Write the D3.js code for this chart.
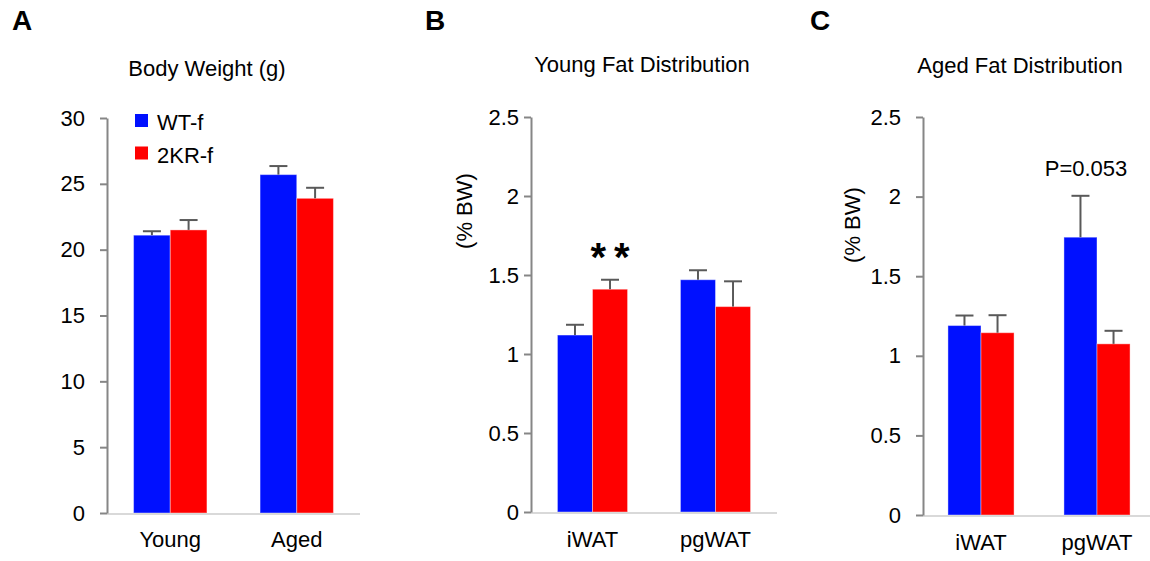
<!DOCTYPE html>
<html>
<head>
<meta charset="utf-8">
<script src="https://cdn.jsdelivr.net/npm/d3@7"></script>
<style>
  body { margin: 0; background: #fff; }
  svg text { font-family: "Liberation Sans", Arial, sans-serif; fill: #000; }
</style>
</head>
<body>
<script>
// Data

var seriesNames = ["WT-f", "2KR-f"];

// Panel A - body weight
var groupsA = ["Young", "Aged"];
var wtA = [21.1, 25.7];
var wtErrA = [0.3, 0.65];
var koA = [21.5, 23.9];
var koErrA = [0.75, 0.8];
var ticksA = [0, 5, 10, 15, 20, 25, 30];

// Panel B - young fat distribution
var groupsB = ["iWAT", "pgWAT"];
var wtB = [1.12, 1.47];
var wtErrB = [0.065, 0.06];
var koB = [1.41, 1.30];
var koErrB = [0.06, 0.16];
var ticksB = [0, 0.5, 1, 1.5, 2, 2.5];

// Panel C - aged fat distribution
var groupsC = ["iWAT", "pgWAT"];
var wtC = [1.19, 1.745];
var wtErrC = [0.063, 0.26];
var koC = [1.145, 1.075];
var koErrC = [0.11, 0.082];
var ticksC = [0, 0.5, 1, 1.5, 2, 2.5];

var blue = "#0010ff";
var red = "#ff0000";
var errColor = "#595959";

var width = 1150;
var height = 561;

var svg = d3.select("body")
  .append("svg")
  .attr("width", width)
  .attr("height", height);

// Draw one bar chart panel
function drawPanel(p) {
  var y = d3.scaleLinear()
    .domain([0, p.ticks[p.ticks.length - 1]])
    .range([p.y0, p.yTop]);

  var x0 = d3.scaleBand()
    .domain(p.groups)
    .range([p.left, p.right])
    .paddingInner(p.pad)
    .paddingOuter(p.pad / 2);

  var x1 = d3.scaleBand()
    .domain([0, 1])
    .range([0, x0.bandwidth()]);

  var g = svg.append("g");

  // title
  g.append("text")
    .attr("x", p.titleX)
    .attr("y", p.titleY)
    .attr("text-anchor", "middle")
    .style("font-size", "22px")
    .text(p.title);

  // panel letter
  g.append("text")
    .attr("x", p.letterX)
    .attr("y", 30)
    .style("font-size", "28px")
    .style("font-weight", "bold")
    .text(p.letter);

  // bars
  var rows = [];
  p.groups.forEach(function(name, i) {
    rows.push({ group: name, s: 0, v: p.wt[i], e: p.wtErr[i] });
    rows.push({ group: name, s: 1, v: p.ko[i], e: p.koErr[i] });
  });

  g.selectAll("rect.bar")
    .data(rows)
    .enter()
    .append("rect")
    .attr("class", "bar")
    .attr("x", function(d) { return x0(d.group) + x1(d.s); })
    .attr("y", function(d) { return y(d.v); })
    .attr("width", x1.bandwidth())
    .attr("height", function(d) { return y(0) - y(d.v); })
    .style("fill", function(d) { return d.s == 0 ? blue : red; })
    .style("stroke", "rgba(255,255,255,0.4)")
    .style("stroke-width", 1);

  // error bars (upper only)
  var errs = g.selectAll("g.err")
    .data(rows)
    .enter()
    .append("g")
    .attr("class", "err")
    .attr("transform", function(d) {
      return "translate(" + (x0(d.group) + x1(d.s) + x1.bandwidth() / 2) + ",0)";
    });

  errs.append("line")
    .attr("x1", 0).attr("x2", 0)
    .attr("y1", function(d) { return y(d.v); })
    .attr("y2", function(d) { return y(d.v + d.e); })
    .style("stroke", errColor)
    .style("stroke-width", 2);

  errs.append("line")
    .attr("x1", -9).attr("x2", 9)
    .attr("y1", function(d) { return y(d.v + d.e); })
    .attr("y2", function(d) { return y(d.v + d.e); })
    .style("stroke", errColor)
    .style("stroke-width", 2);

  // x axis line
  g.append("line")
    .attr("x1", p.left)
    .attr("x2", p.right)
    .attr("y1", y(0) + 1)
    .attr("y2", y(0) + 1)
    .style("stroke", "#d9d9d9")
    .style("stroke-width", 2);

  // x labels
  var xAxis = d3.axisBottom(x0).tickSize(0).tickPadding(0);
  var xg = g.append("g")
    .attr("transform", "translate(0," + p.xLabelY + ")")
    .call(xAxis);
  xg.select(".domain").remove();
  xg.selectAll("text")
    .attr("y", 0)
    .attr("dy", 0)
    .style("font-size", "22px")
    .style("font-family", "Liberation Sans, Arial, sans-serif");

  // y axis
  var yAxis = d3.axisLeft(y)
    .tickValues(p.ticks)
    .tickSize(7)
    .tickSizeOuter(0)
    .tickPadding(p.tickPad)
    .tickFormat(d3.format(""));
  var yg = g.append("g")
    .attr("transform", "translate(" + p.left + ",0)")
    .call(yAxis);
  yg.select(".domain")
    .style("stroke", "#868686")
    .style("stroke-width", 2);
  yg.selectAll(".tick line")
    .style("stroke", "#868686")
    .style("stroke-width", 2);
  yg.selectAll(".tick text")
    .style("font-size", "22px")
    .style("font-family", "Liberation Sans, Arial, sans-serif")
    .style("fill", "#000");

  // y label
  if (p.yLabel) {
    g.append("text")
      .attr("transform", "translate(" + p.yLabelX + "," + p.yLabelY + ") rotate(-90)")
      .attr("text-anchor", "middle")
      .attr("dy", "0.35em")
      .style("font-size", "22px")
      .text(p.yLabel);
  }

  return { g: g, x0: x0, x1: x1, y: y };
}

// Panel A
var pa = drawPanel({
  letter: "A", letterX: 12, title: "Body Weight (g)", titleX: 207, titleY: 76,
  groups: groupsA, wt: wtA, wtErr: wtErrA, ko: koA, koErr: koErrA, ticks: ticksA,
  left: 107, right: 360, y0: 513, yTop: 118, pad: 0.42, tickPad: 15, xLabelY: 547
});

// Legend
var legend = pa.g.selectAll("g.legend")
  .data(seriesNames)
  .enter()
  .append("g")
  .attr("class", "legend")
  .attr("transform", function(d, i) { return "translate(135," + (114 + i * 32.5) + ")"; });
legend.append("rect")
  .attr("width", 13)
  .attr("height", 13)
  .style("fill", function(d, i) { return i == 0 ? blue : red; });
legend.append("text")
  .attr("x", 22)
  .attr("y", 16)
  .style("font-size", "22px")
  .text(function(d) { return d; });

// Panel B
var pb = drawPanel({
  letter: "B", letterX: 425, title: "Young Fat Distribution", titleX: 642, titleY: 72,
  groups: groupsB, wt: wtB, wtErr: wtErrB, ko: koB, koErr: koErrB, ticks: ticksB,
  left: 531, right: 777, y0: 512, yTop: 117, pad: 0.43, tickPad: 5, xLabelY: 547,
  yLabel: "(% BW)", yLabelX: 464, yLabelY: 211
});

// significance marker over 2KR-f iWAT
pb.g.append("text")
  .attr("x", pb.x0("iWAT") + pb.x1(1) + pb.x1.bandwidth() / 2 + 4)
  .attr("y", 271)
  .attr("text-anchor", "middle")
  .style("font-size", "40px")
  .style("font-weight", "bold")
  .style("letter-spacing", "8px")
  .text("**");

// Panel C
var pc = drawPanel({
  letter: "C", letterX: 810, title: "Aged Fat Distribution", titleX: 1020, titleY: 73,
  groups: groupsC, wt: wtC, wtErr: wtErrC, ko: koC, koErr: koErrC, ticks: ticksC,
  left: 923, right: 1155, y0: 515, yTop: 117, pad: 0.43, tickPad: 15, xLabelY: 550,
  yLabel: "(% BW)", yLabelX: 852, yLabelY: 225
});

pc.g.append("text")
  .attr("x", 1086)
  .attr("y", 176)
  .attr("text-anchor", "middle")
  .style("font-size", "22px")
  .text("P=0.053");
</script>
</body>
</html>
